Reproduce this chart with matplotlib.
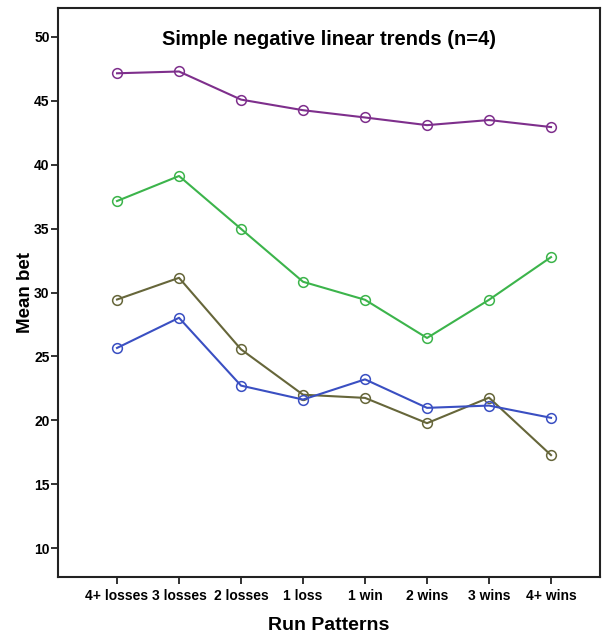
import matplotlib
matplotlib.use("Agg")
import matplotlib.pyplot as plt

# Data
CATEGORIES = ["4+ losses", "3 losses", "2 losses", "1 loss",
              "1 win", "2 wins", "3 wins", "4+ wins"]
PURPLE_VALS = [47.16, 47.3, 45.1, 44.27, 43.7, 43.1, 43.5, 42.95]
GREEN_VALS  = [37.16, 39.12, 34.98, 30.84, 29.43, 26.44, 29.43, 32.77]
OLIVE_VALS  = [29.45, 31.15, 25.55, 22.0, 21.75, 19.77, 21.77, 17.27]
BLUE_VALS   = [25.66, 28.02, 22.71, 21.62, 23.2, 20.97, 21.15, 20.19]
Y_TICKS = [10, 15, 20, 25, 30, 35, 40, 45, 50]

# Colours
PURPLE = "#7e2f8c"
GREEN  = "#3cb44b"
OLIVE  = "#66663a"
BLUE   = "#3a4fc2"
SPINE  = "#222222"

plt.rcParams["font.family"] = ["Liberation Sans", "DejaVu Sans"]

fig = plt.figure(figsize=(6.04, 6.35), dpi=100)
ax = fig.add_axes([58 / 604, 1 - 577 / 635, 542 / 604, 569 / 635])

x = list(range(len(CATEGORIES)))
for vals, col in [(PURPLE_VALS, PURPLE), (GREEN_VALS, GREEN),
                  (OLIVE_VALS, OLIVE), (BLUE_VALS, BLUE)]:
    ax.plot(x, vals, color=col, lw=1.5, marker="o", markersize=7,
            markerfacecolor="none", markeredgecolor=col, markeredgewidth=1.1)

ax.set_xlim(-0.952, 7.79)
ax.set_ylim(7.73, 52.27)
ax.set_xticks(x)
ax.set_xticklabels(CATEGORIES, fontsize=10, fontweight="bold")
ax.set_yticks(Y_TICKS)
ax.set_yticklabels([str(t) for t in Y_TICKS], fontsize=10, fontweight="bold")
ax.tick_params(direction="out", length=5, width=1.3, color=SPINE, pad=1)
ax.tick_params(axis="x", pad=4)

for s in ax.spines.values():
    s.set_linewidth(1.5)
    s.set_color(SPINE)
ax.tick_params(axis="both", which="both", top=False, right=False)

ax.set_title("Simple negative linear trends (n=4)", fontsize=14.5,
             fontweight="bold", y=0.947, va="top")
ax.set_xlabel("Run Patterns", fontsize=14, fontweight="bold", labelpad=10)
ax.set_ylabel("Mean bet", fontsize=13.5, fontweight="bold", labelpad=0)

fig.savefig("out.png", dpi=100)
